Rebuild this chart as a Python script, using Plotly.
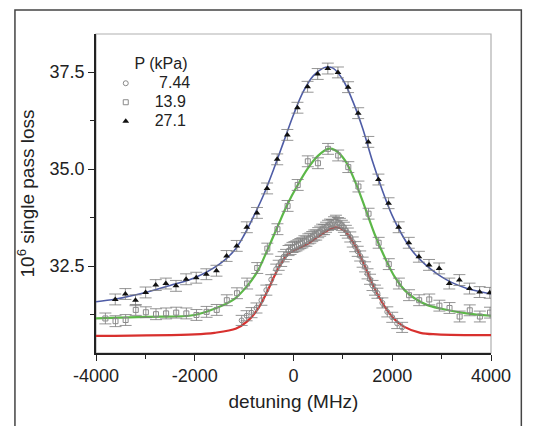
import plotly.graph_objects as go

# ---- data ----
# P = 27.1 kPa (filled triangles)
p27_x = [-3610, -3405, -3200, -2995, -2790, -2585, -2380, -2175, -1970, -1765, -1560, -1355, -1150,
         -945, -740, -535, -330, -125, 80, 285, 490, 695, 900, 1105, 1310, 1515, 1720, 1925, 2130,
         2335, 2540, 2745, 2950, 3155, 3360, 3565, 3770, 3975]
p27_y = [31.64, 31.78, 31.62, 31.82, 32.01, 32.05, 31.99, 32.16, 32.20, 32.29, 32.38, 32.76, 33.02,
         33.50, 33.87, 34.50, 35.25, 35.88, 36.58, 37.12, 37.45, 37.59, 37.49, 37.11, 36.44, 35.70,
         34.73, 34.12, 33.50, 33.10, 32.74, 32.53, 32.44, 32.05, 32.14, 31.92, 31.83, 31.81]

# P = 13.9 kPa (open squares)
p139_x = [-3810, -3605, -3400, -3195, -2990, -2785, -2580, -2375, -2170, -1965, -1760, -1555, -1350,
          -1145, -940, -735, -530, -325, -120, 85, 290, 495, 700, 905, 1110, 1315, 1520, 1725, 1930,
          2135, 2340, 2545, 2750, 2955, 3160, 3365, 3570, 3775, 3980]
p139_y = [31.15, 31.08, 31.11, 31.37, 31.31, 31.26, 31.28, 31.30, 31.28, 31.24, 31.32, 31.37, 31.62,
          31.80, 32.05, 32.45, 32.95, 33.45, 34.05, 34.59, 35.20, 35.15, 35.52, 35.35, 35.05, 34.55,
          33.85, 33.10, 32.55, 32.05, 31.75, 31.62, 31.64, 31.48, 31.42, 31.20, 31.36, 31.20, 31.30]

# P = 7.44 kPa (open circles)
p744_x = [-1050, -950, -850, -750, -650, -550, -450, -350, -300, -250, -200, -150, -100, -60, -20,
          20, 60, 100, 140, 180, 220, 260, 300, 340, 380, 420, 460, 500, 540, 580, 620, 660, 700,
          740, 780, 820, 860, 900, 940, 980, 1020, 1060, 1100, 1150, 1200, 1250, 1300, 1350, 1400,
          1450, 1500, 1550, 1600, 1650, 1700, 1800, 1900, 2000, 2100, 2200]
p744_y = [31.10, 31.22, 31.30, 31.42, 31.62, 31.88, 32.15, 32.42, 32.52, 32.62, 32.74, 32.80, 32.90,
          32.93, 32.98, 33.00, 33.02, 33.05, 33.08, 33.10, 33.15, 33.14, 33.20, 33.22, 33.26, 33.30,
          33.30, 33.36, 33.40, 33.45, 33.44, 33.50, 33.55, 33.58, 33.57, 33.64, 33.68, 33.62, 33.60,
          33.55, 33.50, 33.42, 33.35, 33.25, 33.12, 33.00, 32.88, 32.76, 32.60, 32.48, 32.30, 32.16,
          32.00, 31.88, 31.80, 31.55, 31.32, 31.18, 31.02, 30.92]

err_27 = 0.14
err_139 = 0.14
err_744 = 0.13

# fitted curves
fit27_x = [-4000, -3600, -3000, -2500, -2000, -1500, -1200, -1000, -800, -600, -400, -200, 0, 200,
           400, 600, 700, 800, 1000, 1200, 1400, 1600, 1800, 2000, 2200, 2400, 2600, 2800, 3000,
           3200, 3500, 4000]
fit27_y = [31.58, 31.65, 31.82, 32.00, 32.20, 32.55, 32.90, 33.30, 33.80, 34.35, 35.00, 35.70, 36.40,
           37.00, 37.40, 37.60, 37.63, 37.60, 37.30, 36.75, 36.05, 35.20, 34.45, 33.80, 33.30, 32.90,
           32.62, 32.40, 32.22, 32.08, 31.93, 31.78]

fit139_x = [-4000, -3000, -2000, -1600, -1200, -950, -735, -530, -325, -120, 85, 290, 495, 700, 835,
            1040, 1240, 1450, 1650, 1850, 2050, 2250, 2450, 2700, 3000, 3500, 4000]
fit139_y = [31.15, 31.19, 31.24, 31.40, 31.65, 31.97, 32.35, 32.91, 33.51, 34.10, 34.59, 35.02, 35.34,
            35.52, 35.49, 35.23, 34.70, 34.00, 33.30, 32.72, 32.22, 31.88, 31.67, 31.50, 31.40, 31.28,
            31.22]

fit744_x = [-4000, -2000, -1600, -1160, -950, -735, -530, -325, -120, 15, 270, 475, 680, 850, 1015,
            1220, 1420, 1625, 1830, 2030, 2235, 2570, 2910, 4000]
fit744_y = [30.70, 30.74, 30.78, 30.89, 31.06, 31.37, 31.85, 32.40, 32.80, 32.91, 33.06, 33.24, 33.41,
            33.50, 33.43, 33.09, 32.57, 31.97, 31.49, 31.15, 30.94, 30.78, 30.74, 30.72]

legend_title = "P (kPa)"
legend_labels = ["7.44", "13.9", "27.1"]

FONT = "Liberation Sans, Arial, sans-serif"
ERRC = "#7a7a7a"
NB = "\u00a0"


def big(s, pad):
    return "<span style='font-size:16px'>" + NB * pad + s + "</span>"


# page body has an 8px margin: the figure is shifted so the plot area lands where the reference has it
W, H = 525, 418

fig = go.Figure()

# fit curves
fig.add_trace(go.Scatter(x=fit744_x, y=fit744_y, mode="lines", line=dict(color="#d8302e", width=2.2, shape="spline"),
                         showlegend=False, hoverinfo="skip"))
fig.add_trace(go.Scatter(x=fit139_x, y=fit139_y, mode="lines", line=dict(color="#5cb848", width=2.2, shape="spline"),
                         showlegend=False, hoverinfo="skip"))
fig.add_trace(go.Scatter(x=fit27_x, y=fit27_y, mode="lines", line=dict(color="#4e5ca6", width=1.6, shape="spline"),
                         showlegend=False, hoverinfo="skip"))

# data
fig.add_trace(go.Scatter(x=p744_x, y=p744_y, mode="markers", name=big(legend_labels[0], 3),
                         marker=dict(symbol="circle-open", size=5, color="#8a8a8a", line=dict(width=1)),
                         error_y=dict(type="constant", value=err_744, color=ERRC, thickness=0.8, width=6)))
fig.add_trace(go.Scatter(x=p139_x, y=p139_y, mode="markers", name=big(legend_labels[1], 2),
                         marker=dict(symbol="square-open", size=5, color="#8a8a8a", line=dict(width=1)),
                         error_y=dict(type="constant", value=err_139, color=ERRC, thickness=0.8, width=6)))
fig.add_trace(go.Scatter(x=p27_x, y=p27_y, mode="markers", name=big(legend_labels[2], 2),
                         marker=dict(symbol="triangle-up", size=6, color="#111111"),
                         error_y=dict(type="constant", value=err_27, color=ERRC, thickness=0.8, width=6)))

# gray frame on top/right of plot area, and outer figure frame
fig.add_shape(type="rect", xref="paper", yref="paper", x0=0, x1=1, y0=0, y1=1,
              line=dict(color="#b0b0b0", width=1.2), layer="below")
fig.add_shape(type="rect", xref="paper", yref="paper", x0=-0.2052, x1=1.0768, y0=-0.26, y1=1.0751,
              line=dict(color="#444444", width=1.5))

fig.update_layout(
    width=W, height=H,
    margin=dict(l=88, r=42, t=26, b=73),
    paper_bgcolor="white", plot_bgcolor="white",
    font=dict(family=FONT, size=16, color="#222222"),
    legend=dict(title=dict(text=big(legend_title, 6), font=dict(size=12)), font=dict(size=12),
                x=0.0247, y=0.94, xanchor="left", yanchor="top", bgcolor="rgba(0,0,0,0)",
                itemwidth=30, tracegroupgap=0),
    xaxis=dict(range=[-4000, 4000], tickvals=[-4000, -2000, 0, 2000, 4000],
               ticktext=["-4000", "-2000", "0", "2000", "4000"],
               showline=True, linecolor="#222", linewidth=1.5, ticks="outside", ticklen=6,
               tickcolor="#222", showgrid=False, zeroline=False,
               minor=dict(tickvals=[-3000, -1000, 1000, 3000], ticks="outside", ticklen=4, tickcolor="#222"),
               title=dict(text="detuning (MHz)", standoff=9), tickfont=dict(size=18)),
    yaxis=dict(range=[30.26, 38.48], tickvals=[32.5, 35.0, 37.5], ticktext=["32.5", "35.0", "37.5"],
               showline=True, linecolor="#222", linewidth=1.5, ticks="outside", ticklen=6,
               tickcolor="#222", showgrid=False, zeroline=False,
               minor=dict(tickvals=[31.25, 33.75, 36.25], ticks="outside", ticklen=4, tickcolor="#222"),
               title=dict(text="10<sup>6</sup> single pass loss", standoff=10), tickfont=dict(size=18)),
)

fig.write_html("out.html")
